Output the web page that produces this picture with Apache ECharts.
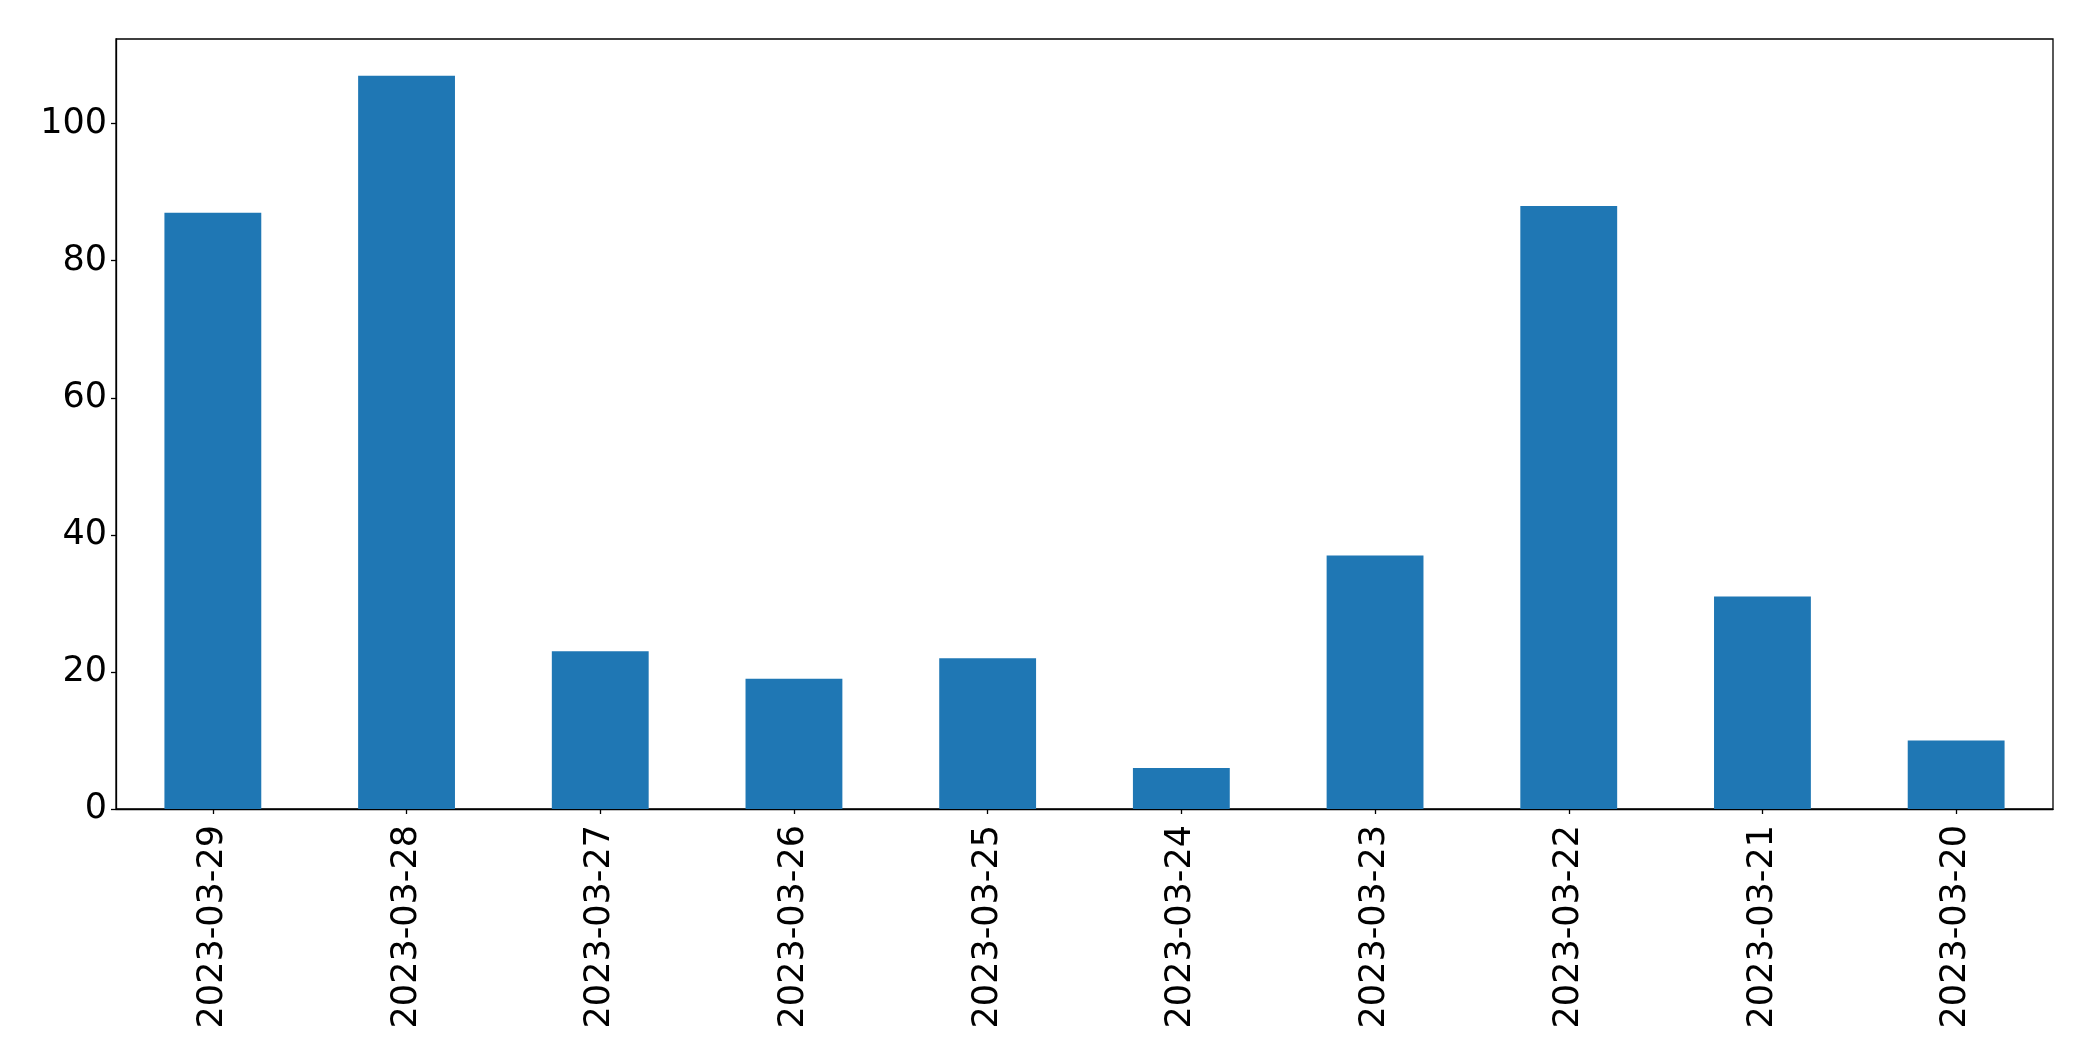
<!DOCTYPE html>
<html>
<head>
<meta charset="utf-8">
<script src="https://cdn.jsdelivr.net/npm/echarts@6/dist/echarts.min.js"></script>
<style>
html,body{margin:0;padding:0;background:#fff;}
#c{width:2093px;height:1061px;}
</style>
</head>
<body>
<div id="c"></div>
<script>
const categories = ["2023-03-29","2023-03-28","2023-03-27","2023-03-26","2023-03-25","2023-03-24","2023-03-23","2023-03-22","2023-03-21","2023-03-20"];
const values = [87, 107, 23, 19, 22, 6, 37, 88, 31, 10];
const yTicks = [0, 20, 40, 60, 80, 100];
const yMax = 112.35;

const chart = echarts.init(document.getElementById('c'), null, {renderer: 'canvas'});
const font = 'DejaVu Sans';
chart.setOption({
  animation: false,
  backgroundColor: '#ffffff',
  grid: {
    left: 116, right: 40, top: 39, bottom: 252,
    show: true, borderColor: '#000', borderWidth: 1.3, backgroundColor: 'transparent'
  },
  xAxis: {
    type: 'category',
    data: categories,
    axisLine: {show: true, lineStyle: {color: '#000', width: 1.3}},
    axisTick: {show: true, alignWithLabel: true, length: 5, lineStyle: {color: '#000', width: 1.3}},
    axisLabel: {rotate: 90, color: '#000', fontFamily: font, fontSize: 35, margin: 16, interval: 0}
  },
  yAxis: {
    type: 'value',
    min: 0, max: yMax,
    splitLine: {show: false},
    axisLine: {show: true, lineStyle: {color: '#000', width: 1.3}},
    axisTick: {show: true, length: 5, lineStyle: {color: '#000', width: 1.3}, customValues: yTicks},
    axisLabel: {color: '#000', fontFamily: font, fontSize: 35, margin: 9, customValues: yTicks}
  },
  series: [{
    type: 'bar',
    data: values,
    barWidth: '50%',
    itemStyle: {color: '#1f77b4'}
  }]
});
</script>
</body>
</html>
